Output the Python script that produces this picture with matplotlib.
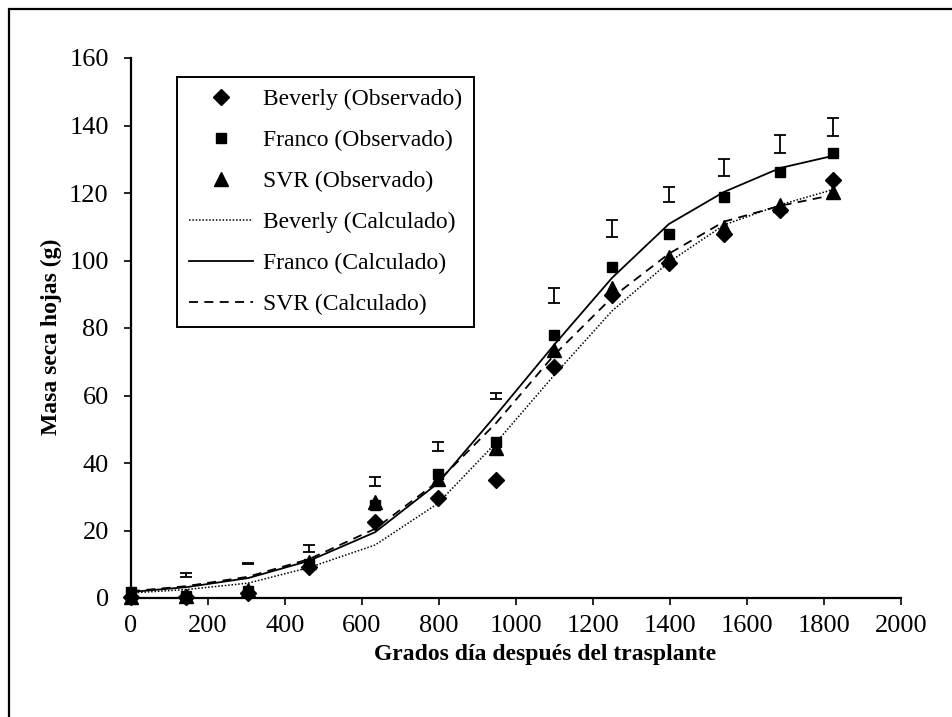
import numpy as np
import matplotlib
matplotlib.use("Agg")
import matplotlib.pyplot as plt
from matplotlib.patches import Rectangle

# grados día después del trasplante
gdd = [0, 143, 304, 462, 634, 797, 948, 1099, 1249, 1397, 1540, 1686, 1823]

# observados
beverly_obs = [0.2, 0.2, 1.5, 9.2, 22.5, 29.6, 35.0, 68.4, 89.8, 99.3, 108.0, 115.0, 123.8]
franco_obs = [1.8, 0.6, 2.0, 10.0, 27.5, 36.6, 46.3, 78.0, 98.0, 107.8, 118.8, 126.2, 131.9]
svr_obs = [0.4, 0.5, 2.4, 10.7, 28.3, 35.2, 44.4, 73.5, 91.8, 100.9, 110.0, 116.4, 120.3]

# calculados
beverly_calc = [1.5, 2.5, 4.4, 9.0, 15.7, 28.0, 46.0, 66.0, 85.0, 99.5, 110.5, 116.5, 121.0]
franco_calc = [1.8, 3.2, 5.9, 11.0, 19.5, 34.0, 54.2, 75.0, 94.8, 110.8, 120.3, 127.4, 131.0]
svr_calc = [2.0, 3.5, 6.3, 11.5, 20.5, 34.5, 51.8, 72.0, 89.0, 102.0, 111.5, 116.2, 119.4]

# barras de error
err_x = gdd[1:]
err_center = [6.8, 10.2, 14.7, 34.5, 44.9, 59.8, 89.6, 109.5, 119.5, 127.5, 134.5, 139.5]
err_half = [0.6, 0.15, 1.0, 1.3, 1.3, 0.9, 2.2, 2.6, 2.2, 2.6, 2.7, 2.7]

plt.rcParams['font.family'] = ['Liberation Serif', 'DejaVu Serif']

fig = plt.figure(figsize=(9.52, 7.17), dpi=100)
ax = fig.add_axes([131 / 952, 1 - 598 / 717, 770 / 952, 540 / 717])

# marco exterior
fig.patches.append(Rectangle((8.5 / 952, -0.05), 1.2, 1 - 8.5 / 717 + 0.05,
                             transform=fig.transFigure, fill=False,
                             edgecolor='black', linewidth=1.6, zorder=0))

ax.plot(gdd, beverly_obs, linestyle='none', marker='D', ms=8.5, color='black',
        label='Beverly (Observado)', zorder=5, clip_on=False)
ax.plot(gdd, franco_obs, linestyle='none', marker='s', ms=7, color='black',
        label='Franco (Observado)', zorder=5, clip_on=False)
ax.plot(gdd, svr_obs, linestyle='none', marker='^', ms=9.5, color='black',
        label='SVR (Observado)', zorder=5, clip_on=False)

ax.plot(gdd, beverly_calc, linestyle=(0, (1, 1.2)), lw=1.1, color='black',
        label='Beverly (Calculado)', zorder=3)
ax.plot(gdd, franco_calc, linestyle='-', lw=1.3, color='black',
        label='Franco (Calculado)', zorder=3)
ax.plot(gdd, svr_calc, linestyle=(0, (5, 3.5)), lw=1.3, color='black',
        label='SVR (Calculado)', zorder=3)

ax.errorbar(err_x, err_center, yerr=err_half, fmt='none', ecolor='black',
            elinewidth=1.3, capsize=4, capthick=1.3, zorder=4)

ax.set_xlim(0, 2000)
ax.set_ylim(0, 160)
ax.set_xticks(np.arange(0, 2001, 200))
ax.set_yticks(np.arange(0, 161, 20))
for s in ['top', 'right']:
    ax.spines[s].set_visible(False)
for s in ['left', 'bottom']:
    ax.spines[s].set_linewidth(1.6)
ax.tick_params(direction='out', length=5, width=1.2, labelsize=19)
ax.tick_params(axis='y', pad=11)
ax.tick_params(axis='x', pad=7)

ax.set_xlabel('Grados día después del trasplante', fontsize=17, fontweight='bold')
ax.set_ylabel('Masa seca hojas (g)', fontsize=17, fontweight='bold')
ax.xaxis.set_label_coords(0.538, -0.086)
ax.yaxis.set_label_coords(-0.089, 0.483)

leg = ax.legend(loc='upper left', bbox_to_anchor=(177 / 952, 1 - 77 / 717),
                bbox_transform=fig.transFigure, fontsize=17, frameon=True,
                fancybox=False, edgecolor='black', framealpha=1,
                borderaxespad=0, handlelength=2.7, labelspacing=0.82,
                borderpad=0.5, handletextpad=0.45)
leg.get_frame().set_linewidth(1.4)

fig.savefig('out.png', dpi=100)
